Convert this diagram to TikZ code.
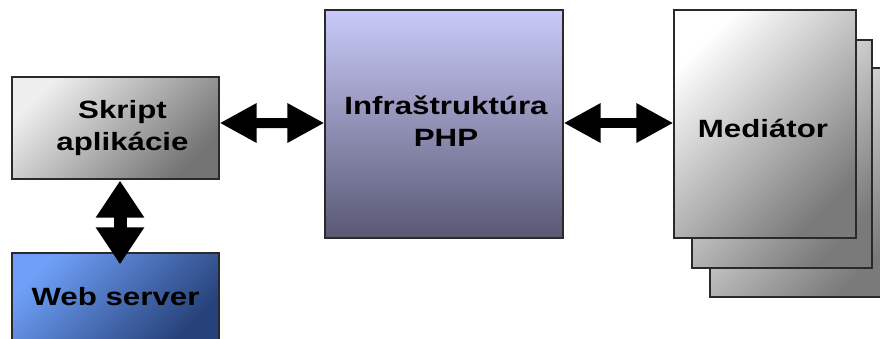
\documentclass[tikz,border=0pt]{standalone}
\usepackage{fontspec}
\newfontfamily\lblfont{Liberation Sans}[FakeStretch=1.25]
\usetikzlibrary{arrows.meta}

\definecolor{edge}{HTML}{2A2A2A}
\definecolor{greyA}{HTML}{EEEEEE}
\definecolor{greyB}{HTML}{747474}
\definecolor{blueA}{HTML}{6FA0F8}
\definecolor{blueB}{HTML}{27427A}
\definecolor{lilacA}{HTML}{CACAFA}
\definecolor{lilacB}{HTML}{585873}
\definecolor{paperA}{HTML}{FFFFFF}
\definecolor{paperB}{HTML}{7A7A7A}

\tikzset{
  lbl/.style={font=\lblfont\bfseries\fontsize{25bp}{32bp}\selectfont, align=center},
  block/.style={draw=edge, line width=1.2bp, rectangle, inner sep=0pt, lbl},
  greyblock/.style={block, top color=greyA, bottom color=greyB, shading angle=45},
  blueblock/.style={block, top color=blueA, bottom color=blueB, shading angle=45},
  lilacblock/.style={block, top color=lilacA, bottom color=lilacB},
  paperblock/.style={block, top color=paperA, bottom color=paperB, shading angle=45},
  harrow/.style={line width=10bp, black,
    {Triangle[length=37bp,width=37bp]}-{Triangle[length=37bp,width=37bp]}},
  varrow/.style={line width=13bp, black,
    {Triangle[length=37bp,width=46bp]}-{Triangle[length=37bp,width=46bp]}}
}

\begin{document}
\begin{tikzpicture}[x=1bp, y=-1bp]
  \clip (0,0) rectangle (880,338);
  \fill[white] (0,0) rectangle (880,338);

  % application script and web server
  \node[greyblock, minimum width=207bp, minimum height=102bp] (skript)
    at (115.5,128) {\hspace*{14bp}Skript\\\hspace*{14bp}aplikácie};
  \node[blueblock, minimum width=207bp, minimum height=87bp] (web)
    at (115.5,296.5) {Web server};

  % PHP infrastructure
  \node[lilacblock, minimum width=238bp, minimum height=228bp] (php)
    at (444,124) {};
  \node[lbl] (phptext) at ([xshift=2bp,yshift=3bp]php.center) {Infraštruktúra\\PHP};

  % stack of mediators, back to front
  \node[paperblock, minimum width=187bp, minimum height=229bp] (med3) at (803.5,182.5) {};
  \node[paperblock, minimum width=180bp, minimum height=228bp] (med2) at (782,154) {};
  \node[paperblock, minimum width=182bp, minimum height=228bp] (med)
    at (765,124) {};
  \node[lbl] (medtext) at ([xshift=-2bp,yshift=-4bp]med.center) {Mediátor};

  % two-way links
  \draw[harrow] ([yshift=5bp]skript.east) -- ([yshift=1bp]php.west);
  \draw[harrow] ([yshift=1bp]php.east) -- ([yshift=1bp]med.west);
  \draw[varrow] ([xshift=4.5bp,yshift=-1bp]skript.south) -- ([xshift=4.5bp,yshift=-12bp]web.north);
\end{tikzpicture}
\end{document}
